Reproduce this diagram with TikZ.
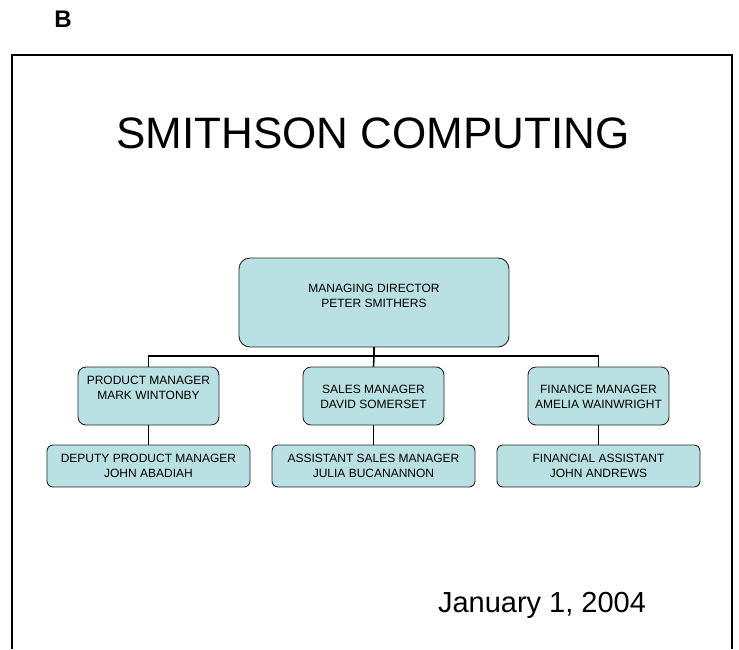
\documentclass[tikz,border=0pt]{standalone}
\usepackage{fontspec}
\setmainfont{Liberation Sans}
\usepackage{tikz}

\definecolor{boxfill}{RGB}{185,224,227}

\begin{document}
\begin{tikzpicture}[x=1pt, y=-1pt,
        orgbox/.style = {draw=black!85, line width=0.9pt, fill=boxfill, rounded corners=#1, inner sep=0pt},
        orgtext/.style = {align=center, font=\fontsize{12}{15}\selectfont},
        link/.style = {line width=1.6pt}]
        \useasboundingbox (0,0) rectangle (739,649);

        % page frame, open at the bottom
        \draw [line width=1.5pt] (12,649) -- (12,55) -- (732,55) -- (732,649);
        \node [font=\bfseries\fontsize{24}{24}\selectfont] (letter) at (63,19) {B};
        \node [anchor=base, font=\fontsize{44}{44}\selectfont] (title) at (373,148) {SMITHSON COMPUTING};

        % boxes
        \node [orgbox=11pt, minimum width=270, minimum height=89] (md) at (374,302.5) {};
        \node [orgtext] (mdt) at (374,296) {MANAGING DIRECTOR\\PETER SMITHERS};

        \node [orgbox=8pt, minimum width=141, minimum height=58] (pm) at (148.5,396) {};
        \node [orgtext] (pmt) at (148.5,388) {PRODUCT MANAGER\\MARK WINTONBY};
        \node [orgbox=8pt, minimum width=141, minimum height=58] (sm) at (373.5,396) {};
        \node [orgtext] (smt) at (373.5,397) {SALES MANAGER\\DAVID SOMERSET};
        \node [orgbox=8pt, minimum width=141, minimum height=58] (fm) at (598.5,396) {};
        \node [orgtext] (fmt) at (598.5,397) {FINANCE MANAGER\\AMELIA WAINWRIGHT};

        \node [orgbox=6pt, minimum width=203, minimum height=42] (dpm) at (148.5,466) {};
        \node [orgtext] (dpmt) at (148.5,466) {DEPUTY PRODUCT MANAGER\\JOHN ABADIAH};
        \node [orgbox=6pt, minimum width=203, minimum height=42] (asm) at (373.5,466) {};
        \node [orgtext] (asmt) at (373.5,466) {ASSISTANT SALES MANAGER\\JULIA BUCANANNON};
        \node [orgbox=6pt, minimum width=203, minimum height=42] (fa) at (598.5,466) {};
        \node [orgtext] (fat) at (598.5,466) {FINANCIAL ASSISTANT\\JOHN ANDREWS};

        % connectors
        \coordinate (bus) at (md.south |- 0,356);
        \draw [link] (md.south) -- (bus);
        \draw [link] (pm.north) |- (bus) -| (fm.north);
        \draw [link] (bus) -- (sm.north);
        \draw [link] (pm.south) -- (dpm.north);
        \draw [link] (sm.south) -- (asm.north);
        \draw [link] (fm.south) -- (fa.north);

        \node [anchor=base, font=\fontsize{29}{29}\selectfont] (date) at (542,612) {January 1, 2004};
    \end{tikzpicture}
\end{document}
